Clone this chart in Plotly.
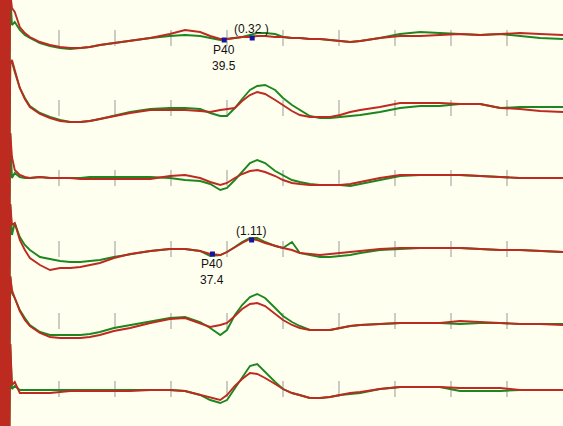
import plotly.graph_objects as go

# sample times (ms) shared by all channels
time_ms = [1.6, 2.1, 3.0, 3.9, 4.8, 6.6, 8.4, 10.2, 12.0, 13.8,
           15.5, 17.3, 19.8, 22.7, 26.3, 29.8, 32.5, 35.2, 37.0, 38.8,
           40.0, 41.4, 42.7, 44.1, 45.4, 46.8, 48.6, 50.0, 51.6, 53.0,
           54.8, 56.6, 58.4, 60.2, 62.0, 63.8, 67.3, 70.9, 74.5, 78.0,
           81.6, 85.2, 88.8, 92.3, 95.9, 100.0]

# stimulus artifact (saturated, off scale)
artifact_t = [-0.5, -0.35, -0.2, -0.05, 0.1, 0.25, 0.4, 0.55, 0.7, 0.85, 1.0, 1.15, 1.3]
artifact_v = [-45, 45, -45, 45, -45, 45, -45, 45, -45, 45, -45, 45, -45]

# deflections (negative up), green = run A, red = run B
green_1 = [-13, -16, -8, -3, 0, 5, 8, 10, 11, 10, 9, 7, 5, 3, 0, -2, -3, -2, 0, 2,
           1, 0, -1, -3, -5, -5, -4, -1, 0, 0, 1, 1, 2, 3, 4, 3, 0, -4, -6, -5,
           -4, -3, -4, -2, 0, 1]
red_1 = [-30, -26, -11, -5, -1, 4, 7, 9, 10, 10, 9, 7, 5, 3, 0, -4, -8, -6, -2, 1,
         1, 0, -1, -1, -2, -2, -1, -1, 0, 0, 1, 1, 2, 3, 4, 3, 0, -2, -2, -3,
         -4, -3, -4, -5, -4, -3]
green_2 = [-46, -36, -20, -10, -2, 5, 9, 12, 14, 14, 13, 11, 8, 4, 1, 0, 0, 1, 5, 8,
           8, 0, -9, -18, -22, -23, -18, -10, -3, 2, 8, 10, 10, 9, 8, 7, 4, 0, -2, -2,
           -4, -4, 0, -1, -1, -1]
red_2 = [-48, -38, -20, -9, -1, 6, 10, 13, 14, 14, 13, 11, 8, 5, 2, 2, 2, 3, 4, 2,
         1, 0, -7, -13, -16, -14, -8, -3, 3, 7, 9, 9, 9, 7, 4, 2, -1, -5, -5, -5,
         -4, -4, 0, 1, 3, 4]
green_3 = [0, -5, -1, 0, 0, -1, 0, 0, 0, 0, -1, -1, -1, -1, -1, 0, 2, 3, 6, 12,
           10, 2, -6, -15, -18, -15, -7, -3, 2, 4, 6, 7, 7, 7, 8, 6, 2, -2, -3, -3,
           -3, -2, -1, 0, 0, 0]
red_3 = [-21, -8, -3, -1, 0, -1, 0, 0, 0, 1, 1, 1, 1, 1, 1, -2, -3, 0, 4, 7,
         5, 0, -4, -7, -8, -6, -2, 2, 5, 6, 7, 7, 7, 7, 6, 4, 0, -3, -3, -3,
         -3, -2, -1, 0, 0, 0]
green_4 = [-14, -26, -12, -4, 1, 8, 10, 12, 13, 13, 12, 11, 8, 5, 2, 0, 0, 2, 7, 6,
           3, -2, -7, -11, -11, -7, -3, -1, -7, 4, 6, 8, 8, 7, 6, 4, 1, 0, -1, -1,
           -1, 0, 1, 1, 2, 3]
red_4 = [-24, -26, -9, 1, 9, 16, 21, 19, 19, 18, 16, 14, 9, 5, 2, 0, 0, 2, 5, 6,
         3, -2, -6, -10, -9, -6, -3, -1, 1, 4, 5, 6, 5, 4, 3, 2, 0, -1, -1, -1,
         -1, 0, 1, 1, 2, 3]
green_5 = [-28, -23, -11, -3, 4, 11, 14, 14, 14, 14, 13, 11, 7, 4, 0, -3, -4, 1, 7, 14,
           9, -6, -16, -24, -27, -23, -13, -5, 1, 5, 9, 9, 9, 7, 5, 4, 3, 2, 2, 2,
           3, 2, 2, 3, 3, 3]
red_5 = [-31, -23, -10, -1, 5, 12, 16, 17, 17, 17, 16, 14, 10, 7, 2, -2, -3, 2, 6, 4,
         2, -5, -12, -17, -18, -15, -7, -1, 4, 7, 9, 9, 9, 7, 5, 4, 3, 2, 2, 2,
         0, 1, 2, 3, 3, 4]
green_6 = [0, -3, 1, 1, 1, 1, 1, 1, 1, 1, 1, 1, 1, 1, 1, 1, 2, 6, 11, 14,
           11, -1, -11, -23, -25, -17, -7, 0, 4, 6, 9, 9, 8, 6, 5, 4, 0, -2, -2, -2,
           2, 2, 2, 1, 1, 1]
red_6 = [-4, -7, 4, 4, 4, 4, 4, 3, 2, 2, 2, 2, 2, 2, 1, 1, 2, 6, 9, 11,
         6, -3, -10, -16, -15, -11, -5, 0, 4, 6, 9, 9, 8, 6, 4, 3, 0, -2, -2, -2,
         -1, -1, -1, 1, 1, 1]

green_runs = [green_1, green_2, green_3, green_4, green_5, green_6]
red_runs = [red_1, red_2, red_3, red_4, red_5, red_6]

tick_times = [10, 20, 30, 40, 50, 60, 70, 80, 90]

# cursor marks: (channel, latency, amplitude, label)
p40_marks = [(0, 39.5, 2, "P40<br>39.5"), (3, 37.4, 5, "P40<br>37.4")]
amp_marks = [(0, 44.5, 0, "(0.32 )"), (3, 44.4, -9, "(1.11)")]

# layout: vertical position of each channel's baseline
offsets = [38, 108, 178, 249, 321, 389]
TICK_HALF = 8
GREEN = "#1E861E"
RED = "#BC2A20"
BG = "#FFFFF0"

fig = go.Figure()

# time ticks on every channel baseline
tx, ty = [], []
for off in offsets:
    for t in tick_times:
        tx += [t, t, None]
        ty += [off - TICK_HALF, off + TICK_HALF, None]
fig.add_trace(go.Scatter(x=tx, y=ty, mode="lines", line=dict(color="#999999", width=1),
                         hoverinfo="skip", showlegend=False))

for runs, color in [(green_runs, GREEN), (red_runs, RED)]:
    for off, vals in zip(offsets, runs):
        fig.add_trace(go.Scatter(
            x=artifact_t + time_ms,
            y=[off + v for v in artifact_v + vals],
            mode="lines", line=dict(color=color, width=1.9),
            showlegend=False))

mx = [m[1] for m in p40_marks + amp_marks]
my = [offsets[m[0]] + m[2] for m in p40_marks + amp_marks]
fig.add_trace(go.Scatter(x=mx, y=my, mode="markers",
                         marker=dict(symbol="square", size=5, color="#1414A0"),
                         showlegend=False))

for ch, t, v, label in p40_marks:
    fig.add_annotation(x=t, y=offsets[ch] + v, text=label, showarrow=False,
                       xanchor="center", yanchor="top", yshift=-1,
                       font=dict(family="Liberation Sans, Arial", size=12, color="#111"))
for ch, t, v, label in amp_marks:
    fig.add_annotation(x=t - 0.2, y=offsets[ch] + v, text=label, showarrow=False,
                       xanchor="center", yanchor="bottom", yshift=0,
                       font=dict(family="Liberation Sans, Arial", size=12, color="#111"))

fig.update_layout(
    width=563, height=426,
    margin=dict(l=0, r=0, t=0, b=0),
    paper_bgcolor=BG,
    plot_bgcolor=BG,
    showlegend=False,
)
fig.update_xaxes(range=[-0.536, 100], visible=False)
fig.update_yaxes(range=[426, 0], visible=False)

# drop the default page margin so the chart sits flush with the window
fig.write_html("out.html", config={"displayModeBar": False},
               post_script="document.body.style.margin='0';document.body.style.background='%s';" % BG)
